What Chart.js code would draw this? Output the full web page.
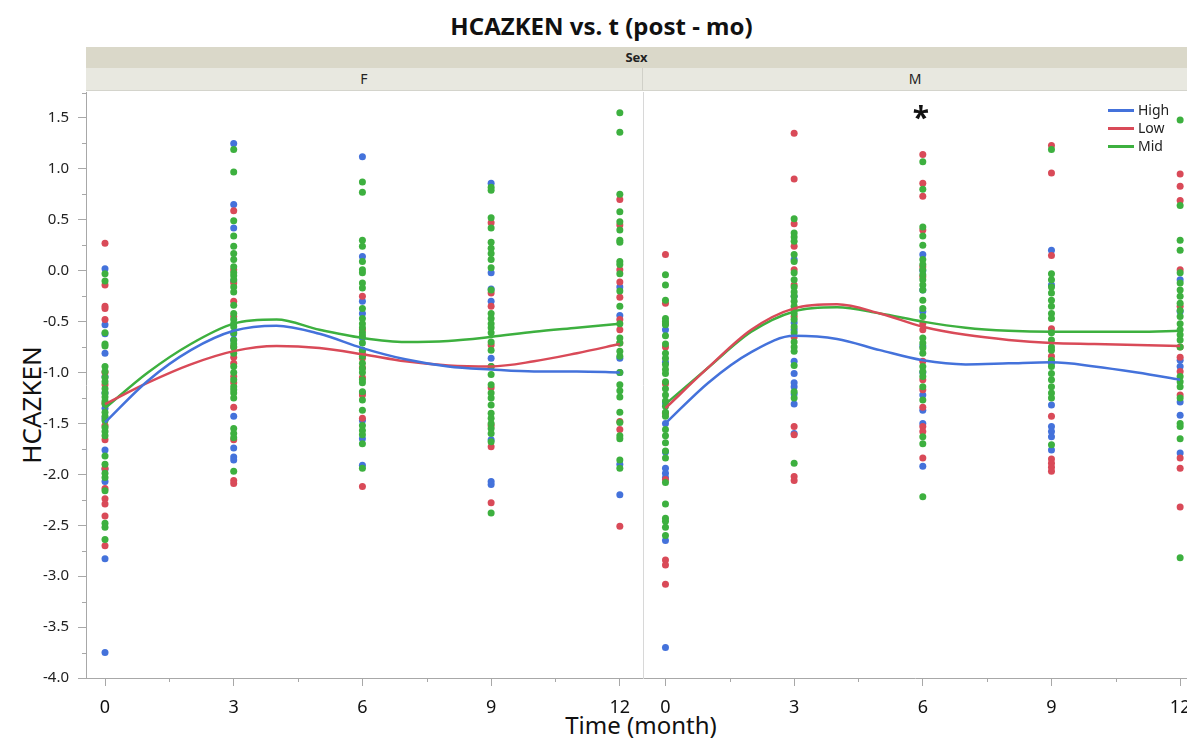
<!DOCTYPE html>
<html>
<head>
<meta charset="utf-8">
<script src="https://cdn.jsdelivr.net/npm/chart.js@4.4.1/dist/chart.umd.min.js"></script>
<style>
  body { margin: 0; background: #fff; font-family: "Noto Sans", "Open Sans", sans-serif; }
  #wrap { position: relative; width: 1187px; height: 738px; overflow: hidden; }
  .abs { position: absolute; }
  #title { left: 0; width: 1203px; top: 9px; text-align: center; font-weight: bold; font-size: 24px; color: #111; }
  #sexBand { left: 86px; width: 1101px; top: 47px; height: 21px; background: #dad8c9; text-align: center;
    font-size: 13px; font-weight: bold; line-height: 21px; color: #222; }
  .facet { top: 68px; height: 22px; background: #e8e8e0; text-align: center; font-size: 14px; line-height: 22px;
    color: #222; border-bottom: 1px solid #d4d4cc; }
  #facetF { left: 86px; width: 556px; border-right: 1px solid #d0d0c8; }
  #facetM { left: 643px; width: 544px; }
  #yTitle { left: 31px; top: 405px; transform: translate(-50%, -50%) rotate(-90deg); font-size: 26px; color: #111; white-space: nowrap; }
  #xTitle { left: 0; width: 1282px; top: 708px; text-align: center; font-size: 24px; color: #111; }
  canvas { position: absolute; }
  #legend { left: 1108px; top: 101px; font-size: 14px; color: #222; line-height: 18px; }
  #legend div { display: flex; align-items: center; }
  #legend span.sw { display: inline-block; width: 26px; height: 3px; margin-right: 4px; }
</style>
</head>
<body>
<div id="wrap">
  <div id="title" class="abs">HCAZKEN vs. t (post - mo)</div>
  <div id="sexBand" class="abs">Sex</div>
  <div id="facetF" class="abs facet">F</div>
  <div id="facetM" class="abs facet">M</div>
  <div id="yTitle" class="abs">HCAZKEN</div>
  <div id="xTitle" class="abs">Time (month)</div>
  <canvas id="chartF" style="left:0px; top:92px;" width="643" height="646"></canvas>
  <canvas id="chartM" style="left:643px; top:92px;" width="544" height="646"></canvas>
  <div id="legend" class="abs"></div>
</div>
<script>
// ---------- data ----------
const times = [0, 3, 6, 9, 12];
const groups = ['High', 'Low', 'Mid'];
const groupColors = ['#4472DB', '#D94A58', '#3DB03F'];

// values per time point (0, 3, 6, 9, 12), Sex = F
const fHigh = [
  [0.02, -0.53, -0.62, -0.81, -1.04, -1.20, -1.35, -1.45, -1.76, -1.95, -2.07, -2.83, -3.75],
  [1.25, 0.65, 0.42, -0.10, -0.62, -0.68, -1.43, -1.74, -1.83, -1.86],
  [1.12, 0.14, -0.30, -0.42, -0.66, -0.78, -1.20, -1.47, -1.65, -1.91],
  [0.86, -0.02, -0.18, -0.30, -0.86, -1.66, -2.07, -2.10],
  [-0.16, -0.44, -0.86, -1.00, -1.90, -2.20]
];
const fLow = [
  [0.27, -0.14, -0.35, -0.37, -0.48, -1.00, -1.12, -1.30, -1.52, -1.66, -1.94, -2.14, -2.24, -2.29, -2.41, -2.70],
  [0.59, 0.01, -0.12, -0.30, -0.45, -0.75, -0.85, -0.91, -1.04, -1.10, -1.34, -1.66, -2.06, -2.09],
  [-0.25, -0.58, -0.81, -0.86, -0.95, -1.05, -1.22, -1.45, -2.12],
  [0.47, -0.22, -0.35, -0.73, -0.94, -1.15, -1.52, -1.73, -2.28],
  [0.70, 0.45, 0.01, -0.11, -0.26, -0.48, -0.58, -0.71, -1.48, -1.56, -2.51]
];
const fMid = [
  [-0.03, -0.10, -0.61, -0.72, -0.74, -0.94, -0.99, -1.05, -1.09, -1.16, -1.20, -1.24, -1.28, -1.31, -1.39, -1.43,
   -1.47, -1.54, -1.58, -1.62, -1.82, -1.90, -1.99, -2.03, -2.16, -2.48, -2.52, -2.64],
  [1.19, 0.97, 0.49, 0.34, 0.24, 0.17, 0.11, 0.04, -0.02, -0.05, -0.09, -0.16, -0.21, -0.34, -0.42, -0.48, -0.52,
   -0.55, -0.61, -0.68, -0.72, -0.75, -0.81, -0.94, -1.00, -1.07, -1.14, -1.17, -1.20, -1.25, -1.55, -1.60, -1.64, -1.97],
  [0.87, 0.77, 0.30, 0.24, 0.09, 0.01, -0.02, -0.12, -0.17, -0.37, -0.47, -0.52, -0.56, -0.61, -0.64, -0.71, -0.78,
   -0.84, -0.91, -0.96, -1.00, -1.07, -1.10, -1.19, -1.27, -1.37, -1.52, -1.57, -1.61, -1.70, -1.94],
  [0.82, 0.79, 0.52, 0.42, 0.28, 0.22, 0.17, 0.11, 0.03, -0.19, -0.42, -0.47, -0.52, -0.56, -0.61, -0.70, -0.78,
   -0.94, -1.02, -1.12, -1.20, -1.25, -1.32, -1.40, -1.45, -1.50, -1.55, -1.60, -1.68, -2.38],
  [1.55, 1.36, 0.75, 0.58, 0.48, 0.40, 0.30, 0.28, 0.09, 0.06, -0.03, -0.20, -0.35, -0.52, -0.66, -0.71, -0.79,
   -0.84, -1.00, -1.12, -1.18, -1.24, -1.39, -1.49, -1.62, -1.65, -1.86, -1.94]
];

// Sex = M
const mHigh = [
  [-0.58, -0.90, -1.30, -1.50, -1.78, -1.94, -1.99, -2.03, -2.65, -3.70],
  [0.11, -0.25, -0.51, -0.58, -0.89, -1.01, -1.10, -1.14, -1.21, -1.31, -1.60],
  [0.16, 0.00, -0.19, -0.40, -0.74, -1.00, -1.22, -1.37, -1.50, -1.92],
  [0.20, -0.14, -0.91, -1.32, -1.53, -1.58, -1.63, -1.76],
  [-0.09, -0.40, -0.88, -0.94, -1.29, -1.42, -1.79]
];
const mLow = [
  [0.16, -0.32, -0.52, -0.75, -1.11, -1.40, -2.05, -2.84, -2.89, -3.08],
  [1.35, 0.90, 0.46, 0.24, 0.01, -0.14, -0.38, -0.45, -0.65, -1.53, -1.61, -2.02, -2.06],
  [1.14, 0.86, 0.73, 0.40, 0.04, -0.06, -0.52, -0.58, -0.89, -1.07, -1.17, -1.34, -1.53, -1.58, -1.84],
  [1.23, 0.96, 0.15, -0.57, -0.84, -1.43, -1.85, -1.89, -1.93, -1.97],
  [0.95, 0.83, 0.69, 0.01, -0.35, -0.75, -0.85, -0.99, -1.22, -1.84, -1.94, -2.32]
];
const mMid = [
  [-0.04, -0.14, -0.29, -0.47, -0.50, -0.53, -0.64, -0.72, -0.81, -0.86, -0.92, -0.97, -1.01, -1.09, -1.16, -1.22,
   -1.28, -1.33, -1.39, -1.43, -1.56, -1.62, -1.69, -1.77, -1.84, -2.08, -2.29, -2.43, -2.46, -2.52, -2.60],
  [0.51, 0.37, 0.33, 0.29, 0.16, 0.09, -0.02, -0.09, -0.16, -0.21, -0.25, -0.30, -0.35, -0.42, -0.48, -0.55, -0.61,
   -0.70, -0.75, -0.79, -0.93, -1.19, -1.25, -1.89],
  [1.07, 0.80, 0.43, 0.34, 0.25, 0.11, 0.06, 0.01, -0.04, -0.09, -0.14, -0.19, -0.29, -0.37, -0.45, -0.66, -0.71,
   -0.76, -0.81, -0.94, -0.99, -1.04, -1.14, -1.27, -1.63, -1.70, -2.22],
  [1.19, -0.03, -0.09, -0.16, -0.22, -0.29, -0.35, -0.42, -0.47, -0.61, -0.68, -0.75, -0.78, -0.88, -0.94, -1.01,
   -1.07, -1.14, -1.20, -1.25, -1.71],
  [1.48, 0.64, 0.30, 0.20, -0.02, -0.12, -0.19, -0.25, -0.32, -0.39, -0.45, -0.52, -0.58, -0.63, -0.68, -0.75,
   -1.04, -1.09, -1.14, -1.25, -1.50, -1.53, -1.65, -2.82]
];

// smoother curves at each month
const curveTimes = [0, 1, 2, 3, 4, 5, 6, 7, 8, 9, 10, 11, 12];
const fHighCurve = [-1.49, -1.08, -0.78, -0.59, -0.54, -0.62, -0.76, -0.87, -0.94, -0.97, -0.99, -0.99, -1.00];
const fLowCurve  = [-1.31, -1.10, -0.92, -0.79, -0.74, -0.76, -0.82, -0.89, -0.93, -0.94, -0.89, -0.81, -0.72];
const fMidCurve  = [-1.35, -1.00, -0.72, -0.52, -0.48, -0.58, -0.66, -0.70, -0.69, -0.65, -0.60, -0.56, -0.52];
const mHighCurve = [-1.50, -1.10, -0.80, -0.64, -0.67, -0.78, -0.88, -0.92, -0.91, -0.90, -0.94, -1.00, -1.07];
const mLowCurve  = [-1.35, -0.95, -0.58, -0.37, -0.33, -0.42, -0.55, -0.63, -0.68, -0.71, -0.72, -0.73, -0.74];
const mMidCurve  = [-1.31, -0.95, -0.60, -0.40, -0.36, -0.42, -0.50, -0.56, -0.59, -0.60, -0.60, -0.60, -0.59];

const yTicks = [-4.0, -3.5, -3.0, -2.5, -2.0, -1.5, -1.0, -0.5, 0.0, 0.5, 1.0, 1.5];
const xTicks = [0, 3, 6, 9, 12];
const asteriskAt = { x: 6, y: 1.53 }; // marker above M, t=6

// ---------- helpers ----------
const FONT = '"Noto Sans", "Open Sans", sans-serif';
const AXIS_GREY = '#a8a8a8';

function toPoints(arr) {
  return times.flatMap((t, i) => arr[i].map(v => ({ x: t, y: v })));
}
function toCurve(arr) {
  return curveTimes.map((t, i) => ({ x: t, y: arr[i] }));
}

// short minor ticks between the major ones
const minorTicks = {
  id: 'minorTicks',
  afterDraw(chart) {
    const ctx = chart.ctx;
    ctx.save();
    ctx.strokeStyle = AXIS_GREY;
    ctx.lineWidth = 1;
    const xs = chart.scales.x;
    for (let v = 1.5; v < 12; v += 3) {
      const px = Math.round(xs.getPixelForValue(v)) + 0.5;
      ctx.beginPath(); ctx.moveTo(px, xs.top); ctx.lineTo(px, xs.top + 4); ctx.stroke();
    }
    const ys = chart.scales.y;
    if (ys.options.ticks.display) {
      for (let v = -3.75; v < 1.8; v += 0.5) {
        const py = Math.round(ys.getPixelForValue(v)) + 0.5;
        ctx.beginPath(); ctx.moveTo(ys.right - 4, py); ctx.lineTo(ys.right, py); ctx.stroke();
      }
    }
    ctx.restore();
  }
};

const asteriskPlugin = {
  id: 'asterisk',
  afterDatasetsDraw(chart, args, opts) {
    if (!opts.show) return;
    const ctx = chart.ctx;
    ctx.save();
    ctx.fillStyle = '#111';
    ctx.font = 'bold 30px ' + FONT;
    ctx.textAlign = 'center';
    ctx.textBaseline = 'middle';
    ctx.fillText('*', chart.scales.x.getPixelForValue(asteriskAt.x) - 2, chart.scales.y.getPixelForValue(asteriskAt.y) + 5);
    ctx.restore();
  }
};

function makeChart(id, highs, lows, mids, curves, xMin, xMax, showY, showAsterisk) {
  const datasets = [];
  curves.forEach((c, i) => datasets.push({
    label: groups[i] + ' fit', data: toCurve(c), showLine: true, pointRadius: 0,
    borderColor: groupColors[i], borderWidth: 2.5, cubicInterpolationMode: 'monotone'
  }));
  [[mids, 2], [lows, 1], [highs, 0]].forEach(([arr, gi]) => datasets.push({
    label: groups[gi], data: toPoints(arr), pointRadius: 3.5, pointHoverRadius: 3.5,
    backgroundColor: groupColors[gi], borderWidth: 0
  }));

  return new Chart(document.getElementById(id), {
    type: 'scatter',
    data: { datasets },
    options: {
      responsive: false,
      animation: false,
      layout: { padding: 0, autoPadding: false },
      plugins: {
        legend: { display: false },
        tooltip: { enabled: false },
        asterisk: { show: showAsterisk }
      },
      scales: {
        x: {
          type: 'linear', min: xMin, max: xMax,
          afterBuildTicks: s => { s.ticks = xTicks.map(v => ({ value: v })); },
          afterFit: s => { s.height = 60; s.paddingLeft = 0; s.paddingRight = 0; },
          ticks: { color: '#111', font: { family: FONT, size: 18 }, padding: 11, maxRotation: 0, autoSkip: false,
                   callback: v => String(v) },
          grid: { drawOnChartArea: false, tickLength: 8, color: AXIS_GREY },
          border: { color: AXIS_GREY }
        },
        y: {
          type: 'linear', min: -4.0, max: 1.755, display: true,
          afterBuildTicks: s => { s.ticks = yTicks.map(v => ({ value: v })); },
          afterFit: s => { s.width = showY ? 86 : 0; s.paddingTop = 0; s.paddingBottom = 0; },
          ticks: { display: showY, color: '#222', font: { family: FONT, size: 15 }, padding: 9,
                   callback: v => v.toFixed(1) },
          grid: { drawOnChartArea: false, drawTicks: showY, tickLength: 8, color: AXIS_GREY },
          border: { color: showY ? AXIS_GREY : '#d8d8d8' }
        }
      }
    },
    plugins: [minorTicks, asteriskPlugin]
  });
}

makeChart('chartF', fHigh, fLow, fMid, [fHighCurve, fLowCurve, fMidCurve], -0.443, 12.54, true, false);
makeChart('chartM', mHigh, mLow, mMid, [mHighCurve, mLowCurve, mMidCurve], -0.524, 12.16, false, true);

// legend
const legend = document.getElementById('legend');
groups.forEach((g, i) => {
  const row = document.createElement('div');
  row.innerHTML = '<span class="sw" style="background:' + groupColors[i] + '"></span>' + g;
  legend.appendChild(row);
});
</script>
</body>
</html>
